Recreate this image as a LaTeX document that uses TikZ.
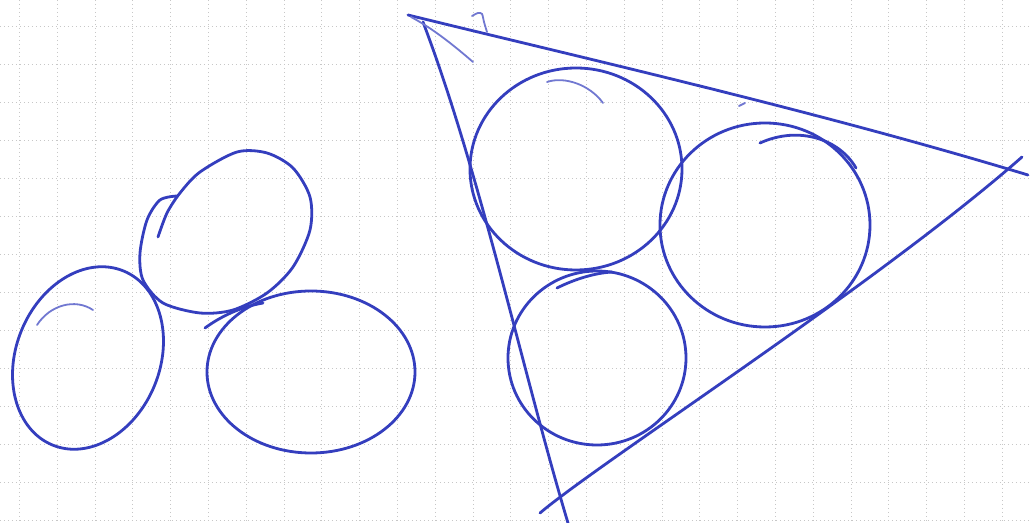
\documentclass[tikz,border=0pt]{standalone}
\usepackage{tikz}
\usepackage{xcolor}
\definecolor{ink}{RGB}{52,62,190}
\begin{document}
\begin{tikzpicture}[
  x=0.5pt,y=-0.5pt,
  gridline/.style={draw=black!22,line width=0.5pt,dash pattern=on 0.6pt off 1.4pt},
  pen/.style={draw=ink,line width=1.4pt,line cap=round,line join=round},
  faint/.style={draw=ink!70,line width=0.9pt,line cap=round}
]
\fill[white] (0,0) rectangle (1030,523);
\useasboundingbox (0,0) rectangle (1030,523);
\foreach \k in {0,...,26} \draw[gridline] ({19.5+37.8*\k},0) -- ({19.5+37.8*\k},523);
\foreach \k in {0,...,13} \draw[gridline] (0,{27+38*\k}) -- (1030,{27+38*\k});

\draw[pen,rotate around={-22:(88,358)}] (88,358) ellipse [x radius=72,y radius=94];
\draw[faint] (37,325) .. controls (50,305) and (75,298) .. (93,310);
\draw[pen] plot[smooth] coordinates {(158,237) (167,213) (180,193) (200,172) (237,152) (267,153) (293,168) (310,197) (310,230) (293,267) (267,293) (233,310) (200,313) (163,303) (143,280) (140,253) (147,220) (160,200) (177,196)};
\draw[pen] (311,372) ellipse [x radius=104,y radius=81];
\draw[pen] (205,328) .. controls (220,317) and (240,307) .. (263,303);

\draw[pen] (408,15) .. controls (600,62) and (820,112) .. (1028,175);
\draw[pen] (423,22) .. controls (480,172) and (523,373) .. (568,523);
\draw[pen] (540,513) .. controls (600,462) and (880,282) .. (1022,157);
\draw[faint] (411,17) .. controls (430,27) and (450,42) .. (473,62);
\draw[faint] plot[smooth] coordinates {(472,16) (478,13) (482,14) (484,22) (487,32)};
\draw[faint] (739,106) -- (745,103);

\draw[pen] (576,169) ellipse [x radius=106,y radius=101];
\draw[faint] (547,82) .. controls (565,76) and (590,85) .. (603,103);
\draw[pen] (765,225) ellipse [x radius=105,y radius=102];
\draw[pen] (760,143) .. controls (800,125) and (840,140) .. (856,168);
\draw[pen] (597,358) ellipse [x radius=89,y radius=87];
\draw[pen] (557,288) .. controls (575,279) and (595,273) .. (612,272);
\end{tikzpicture}
\end{document}
